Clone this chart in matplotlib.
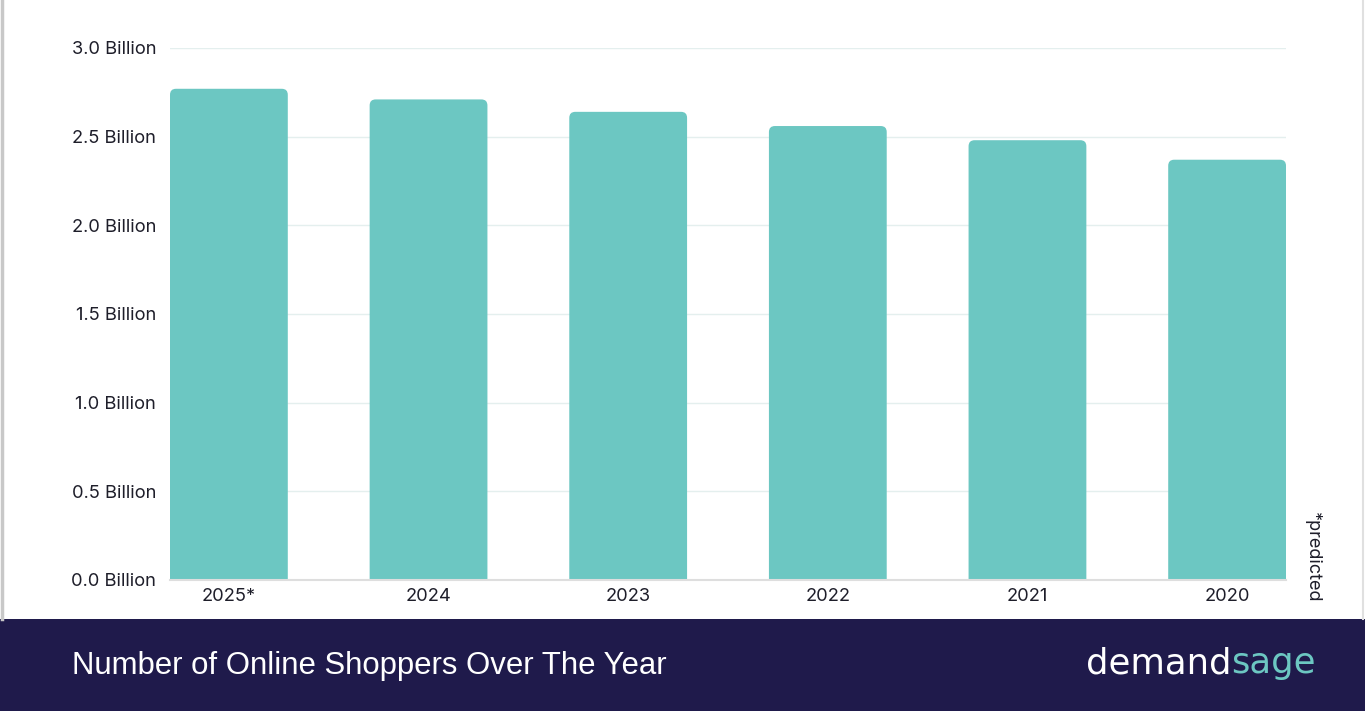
import matplotlib
matplotlib.use('Agg')
import matplotlib.pyplot as plt
from matplotlib.patches import FancyBboxPatch, Rectangle
from matplotlib.lines import Line2D

# 数据
years = ['2025*', '2024', '2023', '2022', '2021', '2020']
shoppers = [2.77, 2.71, 2.64, 2.56, 2.48, 2.37]  # 十亿
y_ticks = [0.0, 0.5, 1.0, 1.5, 2.0, 2.5, 3.0]
y_labels = [f'{v:.1f} Billion' for v in y_ticks]

title = 'Number of Online Shoppers Over The Year'
bar_color = '#6cc7c2'
banner_color = '#1f1a4b'
text_color = '#1e1e2a'

plt.rcParams['font.family'] = ['Inter', 'DejaVu Sans']

fig = plt.figure(figsize=(13.65, 7.11), dpi=100)
fig.patch.set_facecolor('white')

W, H = 1365, 711
ax = fig.add_axes([170 / W, 1 - 580 / H, (1286 - 170) / W, (580 - 48) / H])

x = list(range(len(years)))
bar_w = 0.59
bars = ax.bar(x, shoppers, width=bar_w, color=bar_color, zorder=2)

ax.set_xlim(-bar_w / 2, len(years) - 1 + bar_w / 2)
ax.set_ylim(0, 3.0)
ax.set_yticks(y_ticks)
ax.set_yticklabels(y_labels)
ax.set_xticks(x)
ax.set_xticklabels(years)

ax.tick_params(axis='both', length=0, labelsize=13.2, colors=text_color)
ax.tick_params(axis='y', pad=10)
ax.tick_params(axis='x', pad=6)
ax.grid(axis='y', color='#e4efee', linewidth=1, zorder=0)
for side in ['top', 'right', 'left']:
    ax.spines[side].set_visible(False)
ax.spines['bottom'].set_color('#dedede')
ax.spines['bottom'].set_linewidth(1.5)
ax.spines['bottom'].set_zorder(3)

# 圆角柱子（只有顶部圆角，底部被坐标轴裁掉）
fig.canvas.draw()
px_x = ax.transData.transform((1, 0))[0] - ax.transData.transform((0, 0))[0]
px_y = ax.transData.transform((0, 1))[1] - ax.transData.transform((0, 0))[1]
r_px = 6
r_x = r_px / px_x
aspect = px_x / px_y
for b in bars:
    b.set_visible(False)
    x0 = b.get_x()
    h = b.get_height()
    p = FancyBboxPatch((x0, -0.2), b.get_width(), h + 0.2,
                       boxstyle=f'round,pad=0,rounding_size={r_x}',
                       mutation_aspect=aspect,
                       facecolor=bar_color, edgecolor='none', zorder=2)
    ax.add_patch(p)

# 右侧注释
fig.text(1312 / W, 1 - 557 / H, '*predicted', rotation=270, ha='center', va='center',
         fontsize=13, color=text_color)

# 底部横幅
fig.patches.append(Rectangle((0, 0), 1, 1 - 619 / H, transform=fig.transFigure,
                             facecolor=banner_color, edgecolor='none', zorder=0))
fig.text(72 / W, 1 - 666 / H, title, ha='left', va='center', fontsize=22.4,
         color='white', family=['Liberation Sans', 'DejaVu Sans'])
t1 = fig.text(1086 / W, 1 - 663 / H, 'demand', ha='left', va='center', fontsize=25.5,
              color='white', family=['DejaVu Sans'])
fig.canvas.draw()
bb = t1.get_window_extent()
fig.text(bb.x1 / W, 1 - 663 / H, 'sage', ha='left', va='center', fontsize=25.5,
         color=bar_color, family=['DejaVu Sans'])

# 边框
fig.lines.append(Line2D([1.5 / W, 1.5 / W], [1 - 619 / H, 1], transform=fig.transFigure,
                        color='#c8c8c8', linewidth=2.5))
fig.lines.append(Line2D([1362.5 / W, 1362.5 / W], [1 - 619 / H, 1], transform=fig.transFigure,
                        color='#e0e0e0', linewidth=1.5))

fig.savefig('out.png', dpi=100, facecolor='white')
